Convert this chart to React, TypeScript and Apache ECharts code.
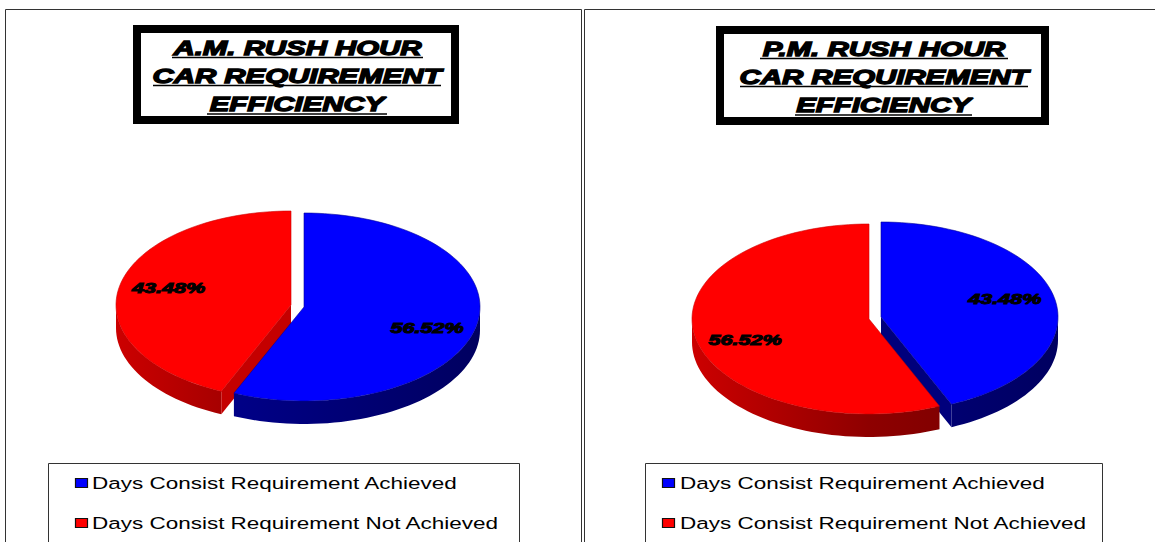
import React, { useEffect, useRef } from "react";
import * as echarts from "echarts";

const categories = ["Days Consist Requirement Achieved", "Days Consist Requirement Not Achieved"];
const amValues = [56.52, 43.48];
const pmValues = [43.48, 56.52];
const amTitle = ["A.M. RUSH HOUR", "CAR REQUIREMENT", "EFFICIENCY"];
const pmTitle = ["P.M. RUSH HOUR", "CAR REQUIREMENT", "EFFICIENCY"];

const FONT = '"Liberation Sans", Arial, sans-serif';
const COLORS = ["#0000ff", "#ff0000"];
const WALL = [["#000098", "#00007c", "#000060"], ["#cc0000", "#8e0000", "#700000"]];
const CUT = ["#00007c", "#c40000"];
const DEPTH = 23;
const SAMPLES = 160;

type Geo = { cx: number; cy: number; rx: number; ry: number };

const pt = (g: Geo, deg: number, dy = 0): number[] => {
  const a = (deg * Math.PI) / 180;
  return [g.cx + g.rx * Math.sin(a), g.cy - g.ry * Math.cos(a) + dy];
};

const arc = (g: Geo, a0: number, a1: number, dy = 0): number[][] => {
  const out: number[][] = [];
  const n = Math.max(2, Math.ceil(((a1 - a0) / 360) * SAMPLES));
  for (let i = 0; i <= n; i++) out.push(pt(g, a0 + ((a1 - a0) * i) / n, dy));
  return out;
};

function sliceSeries(name: string, idx: number, values: number[], g: Geo): any {
  const total = values.reduce((s, v) => s + v, 0);
  const before = values.slice(0, idx).reduce((s, v) => s + v, 0);
  const a0 = (before / total) * 360;
  const a1 = ((before + values[idx]) / total) * 360;
  return {
    type: "custom",
    name,
    coordinateSystem: "none",
    silent: true,
    itemStyle: { color: COLORS[idx] },
    data: [values[idx]],
    renderItem: (_p: any, api: any) => {
      const children: any[] = [];
      const w0 = Math.max(a0, 90);
      const w1 = Math.min(a1, 270);
      if (w1 > w0) {
        const top = arc(g, w0, w1);
        const bottom = arc(g, w0, w1, DEPTH).reverse();
        children.push({
          type: "polygon",
          shape: { points: top.concat(bottom) },
          style: {
            fill: new echarts.graphic.LinearGradient(
              g.cx - g.rx, 0, g.cx + g.rx, 0,
              [
                { offset: 0, color: WALL[idx][0] },
                { offset: 0.5, color: WALL[idx][1] },
                { offset: 1, color: WALL[idx][2] },
              ],
              true,
            ),
          },
        });
      }
      [a0, a1].forEach((edge, k) => {
        const rim = pt(g, edge);
        const a = (edge * Math.PI) / 180;
        const sign = k === 0 ? -1 : 1;
        const normalY = sign * Math.sin(a);
        if (normalY > 0.01 && edge > 90 && edge < 270) {
          children.push({
            type: "polygon",
            shape: {
              points: [[g.cx, g.cy], rim, [rim[0], rim[1] + DEPTH], [g.cx, g.cy + DEPTH]],
            },
            style: { fill: CUT[idx] },
          });
        }
      });
      children.push({
        type: "polygon",
        shape: { points: [[g.cx, g.cy], ...arc(g, a0, a1)] },
        style: { fill: api.visual("color"), stroke: WALL[idx][0], lineWidth: 0.6 },
      });
      const mid = ((a0 + a1) / 2) * (Math.PI / 180);
      children.push({
        type: "text",
        x: g.cx + 0.715 * g.rx * Math.sin(mid),
        y: g.cy - g.ry * Math.cos(mid) + 1.5,
        scaleX: 1.44,
        style: {
          text: values[idx].toFixed(2) + "%",
          fill: "#000",
          stroke: "#000",
          lineWidth: 1,
          font: `italic bold 15px ${FONT}`,
          align: "center",
          verticalAlign: "middle",
        },
      });
      return { type: "group", children };
    },
  };
}

function titleBox(lines: string[], box: number[], xs: number[][], ys: number[], ul: number[]): any[] {
  const [x, y, w, h] = box;
  const border = 8;
  const out: any[] = [
    {
      type: "rect",
      shape: { x: x + border / 2, y: y + border / 2, width: w - border, height: h - border },
      style: { fill: "#fff", stroke: "#000", lineWidth: border },
    },
  ];
  lines.forEach((t, i) => {
    out.push({
      type: "text",
      x: (xs[i][0] + xs[i][1]) / 2,
      y: ys[i],
      scaleX: 1.47,
      style: {
        text: t,
        fill: "#000",
        stroke: "#000",
        lineWidth: 1.3,
        font: `italic bold 20px ${FONT}`,
        align: "center",
        verticalAlign: "middle",
      },
    });
    out.push({
      type: "line",
      shape: { x1: xs[i][0], y1: ul[i], x2: xs[i][1], y2: ul[i] },
      style: { stroke: "#000", lineWidth: 1.4 },
    });
  });
  return out;
}

function legendBox(x: number, width: number, swatchX: number, textX: number): any[] {
  const rows = [483, 523];
  const out: any[] = [
    { type: "rect", shape: { x: x + 0.5, y: 463.5, width, height: 120 }, style: { fill: "#fff", stroke: "#333", lineWidth: 1 } },
  ];
  categories.forEach((c, i) => {
    out.push({
      type: "rect",
      shape: { x: swatchX + 0.5, y: rows[i] - 4.5, width: 12, height: 9 },
      style: { fill: COLORS[i], stroke: "#111", lineWidth: 1.2 },
    });
    out.push({
      type: "text",
      x: textX,
      y: rows[i],
      scaleX: 1.3,
      style: {
        text: c,
        fill: "#000",
        font: `17.3px ${FONT}`,
        align: "left",
        verticalAlign: "middle",
      },
    });
  });
  return out;
}

export default function App() {
  const ref = useRef<HTMLDivElement>(null);
  useEffect(() => {
    document.body.style.margin = "0";
    const chart = echarts.init(ref.current!, undefined, { renderer: "svg" });
    const amBlue: Geo = { cx: 304, cy: 307, rx: 176, ry: 94 };
    const amRed: Geo = { cx: 291, cy: 305, rx: 175, ry: 94 };
    const pmBlue: Geo = { cx: 881, cy: 317, rx: 177, ry: 95 };
    const pmRed: Geo = { cx: 869, cy: 319, rx: 177, ry: 95 };
    chart.setOption({
      animation: false,
      backgroundColor: "#fff",
      series: [
        sliceSeries(categories[1], 1, amValues, amRed),
        sliceSeries(categories[0], 0, amValues, amBlue),
        sliceSeries(categories[0], 0, pmValues, pmBlue),
        sliceSeries(categories[1], 1, pmValues, pmRed),
      ],
      graphic: [
        { type: "rect", z: -1, shape: { x: 5.5, y: 9.5, width: 576, height: 600 }, style: { fill: "none", stroke: "#333", lineWidth: 1 } },
        { type: "rect", z: -1, shape: { x: 584.5, y: 9.5, width: 700, height: 600 }, style: { fill: "none", stroke: "#333", lineWidth: 1 } },
        ...legendBox(48, 471, 75, 92),
        ...legendBox(645, 457, 662, 680),
        ...titleBox(amTitle, [133, 25, 326, 99], [[172, 423], [153, 441], [207, 387]], [47.5, 75.5, 103.5], [57.5, 85.5, 114]),
        ...titleBox(pmTitle, [716, 26, 333, 99], [[760, 1008], [740, 1028], [795, 972]], [48.5, 76.5, 104.5], [58.5, 86.5, 115]),
      ],
    });
    return () => chart.dispose();
  }, []);
  return <div ref={ref} style={{ width: 1155, height: 542 }} />;
}
